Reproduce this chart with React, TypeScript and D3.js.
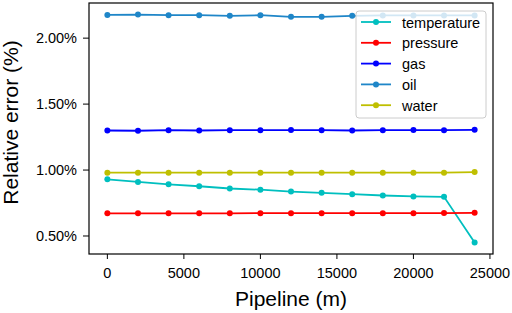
import React from "react";
import * as d3 from "d3";

const pipeline = [0, 2000, 4000, 6000, 8000, 10000, 12000, 14000, 16000, 18000, 20000, 22000, 24000];
const temperature = [0.93, 0.91, 0.892, 0.877, 0.86, 0.851, 0.837, 0.827, 0.817, 0.807, 0.8, 0.797, 0.45];
const pressure = [0.672, 0.672, 0.672, 0.672, 0.672, 0.673, 0.673, 0.673, 0.673, 0.673, 0.673, 0.674, 0.676];
const gas = [1.3, 1.298, 1.302, 1.3, 1.302, 1.302, 1.303, 1.302, 1.3, 1.302, 1.303, 1.302, 1.305];
const oil = [2.176, 2.179, 2.174, 2.174, 2.169, 2.174, 2.162, 2.162, 2.169, 2.172, 2.172, 2.172, 2.172];
const water = [0.98, 0.98, 0.98, 0.98, 0.98, 0.98, 0.98, 0.98, 0.98, 0.98, 0.98, 0.98, 0.985];

const seriesNames = ["temperature", "pressure", "gas", "oil", "water"];
const seriesColors = ["#00BFBF", "#FF0000", "#0000FF", "#1f86c8", "#BFBF00"];
const seriesValues = [temperature, pressure, gas, oil, water];
const xTicks = [0, 5000, 10000, 15000, 20000, 25000];
const yTicks = [0.5, 1.0, 1.5, 2.0];

const W = 512, H = 313;
const L = 89, R = 493, T = 3, B = 254;

export default function App() {
  const x = d3.scaleLinear().domain([-1200, 25200]).range([L, R]);
  const y = d3.scaleLinear().domain([0.3635, 2.2665]).range([B, T]);
  const line = d3.line<number>().x((_, i) => x(pipeline[i])).y((d) => y(d));
  const font = "'Liberation Sans', Arial, sans-serif";
  return (
    <svg width={W} height={H} style={{ position: "absolute", left: 0, top: 0, background: "#fff" }} fontFamily={font}>
      <rect x={0} y={0} width={W} height={H} fill="#fff" />
      {seriesNames.map((n, k) => (
        <g key={n}>
          <path d={line(seriesValues[k]) || ""} fill="none" stroke={seriesColors[k]} strokeWidth={1.8} />
          {seriesValues[k].map((v, i) => (
            <circle key={i} cx={x(pipeline[i])} cy={y(v)} r={3} fill={seriesColors[k]} />
          ))}
        </g>
      ))}
      <rect x={L} y={T} width={R - L} height={B - T} fill="none" stroke="#000" strokeWidth={1.2} />
      {xTicks.map((t) => (
        <g key={t}>
          <line x1={x(t)} x2={x(t)} y1={B} y2={B + 5} stroke="#000" strokeWidth={1} />
          <text x={x(t)} y={B + 24} fontSize={14.5} textAnchor="middle" fill="#000">{t}</text>
        </g>
      ))}
      {yTicks.map((t) => (
        <g key={t}>
          <line x1={L - 6} x2={L} y1={y(t)} y2={y(t)} stroke="#000" strokeWidth={1} />
          <text x={L - 12} y={y(t) + 5} fontSize={14.5} textAnchor="end" fill="#000">{t.toFixed(2) + "%"}</text>
        </g>
      ))}
      <text x={(L + R) / 2} y={306} fontSize={21} textAnchor="middle" fill="#000">Pipeline (m)</text>
      <text transform={`translate(18, ${(T + B) / 2 - 6}) rotate(-90)`} fontSize={21} textAnchor="middle" fill="#000">Relative error (%)</text>
      <g>
        <rect x={356} y={11} width={130} height={107} rx={3} fill="#fff" fillOpacity={0.8} stroke="#ccc" strokeWidth={1} />
        {seriesNames.map((n, i) => {
          const cy = 22 + i * 20.8;
          return (
            <g key={n}>
              <line x1={361} x2={391} y1={cy} y2={cy} stroke={seriesColors[i]} strokeWidth={1.8} />
              <circle cx={376} cy={cy} r={3} fill={seriesColors[i]} />
              <text x={402} y={cy + 5.5} fontSize={14.5} fill="#000">{n}</text>
            </g>
          );
        })}
      </g>
    </svg>
  );
}
